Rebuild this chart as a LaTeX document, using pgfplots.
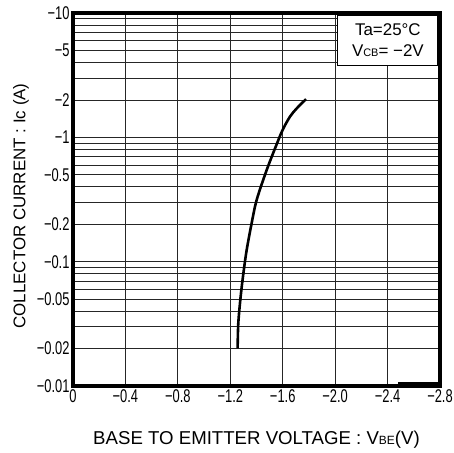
\documentclass[border=0pt]{standalone}
\usepackage{fontspec}
\setmainfont{Liberation Sans}
\newfontfamily\narrowfont[FakeStretch=0.7]{Liberation Sans}
\usepackage{pgfplots}
\pgfplotsset{compat=1.18}
\begin{document}
\begin{tikzpicture}
\useasboundingbox (0,0) rectangle (454bp,453bp);
\begin{axis}[
  at={(73bp,67bp)}, anchor=south west,
  width=367bp, height=373bp, scale only axis,
  xmin=-2.8, xmax=0, x dir=reverse,
  ymode=log, ymin=0.01, ymax=10,
  xtick={0,-0.4,-0.8,-1.2,-1.6,-2.0,-2.4,-2.8},
  xticklabels={0,−0.4,−0.8,−1.2,−1.6,−2.0,−2.4,−2.8},
  ytick={0.01,0.02,0.05,0.1,0.2,0.5,1,2,5,10},
  yticklabels={−0.01,−0.02,−0.05,−0.1,−0.2,−0.5,−1,−2,−5,−10},
  minor ytick={0.03,0.04,0.06,0.07,0.08,0.09,0.3,0.4,0.6,0.7,0.8,0.9,3,4,6,7,8,9},
  grid=both,
  major grid style={black!85, line width=0.8bp},
  minor grid style={black!85, line width=0.8bp},
  major tick length=0pt, minor tick length=0pt,
  axis line style={line width=3.5bp},
  tick label style={font=\fontsize{18.5}{20}\selectfont\narrowfont},
  xlabel={BASE TO EMITTER VOLTAGE : V{\fontsize{12}{12}\selectfont BE}(V)},
  ylabel={COLLECTOR CURRENT : Ic (A)},
  label style={font=\fontsize{17}{20}\selectfont},
  xlabel style={at={(axis description cs:0.5,-0.1448)}, anchor=center, font=\fontsize{18.7}{20}\selectfont},
  ylabel style={at={(axis description cs:-0.1417,0.4826)}, anchor=center},
]
\addplot[black, line width=2.6bp, smooth, tension=0.5] coordinates {
  (-1.256,0.0201) (-1.261,0.0319) (-1.279,0.0523) (-1.300,0.0807) (-1.325,0.124)
  (-1.363,0.204) (-1.401,0.313) (-1.478,0.547) (-1.567,0.953) (-1.605,1.18)
  (-1.656,1.47) (-1.707,1.71) (-1.778,2.03)
};
\addplot[black, line width=3bp] coordinates {(-2.48,0.01038) (-2.8,0.01038)};
\node[draw=black, line width=0.8bp, fill=white, anchor=north east,
      minimum width=100bp, minimum height=50bp, align=center, inner sep=2bp,
      font=\fontsize{17}{21}\selectfont]
  at ([xshift=-1.7bp,yshift=-1.7bp]rel axis cs:1,1)
  {Ta=25°C\\V{\fontsize{11}{11}\selectfont CB}= −2V};
\end{axis}
\end{tikzpicture}
\end{document}
